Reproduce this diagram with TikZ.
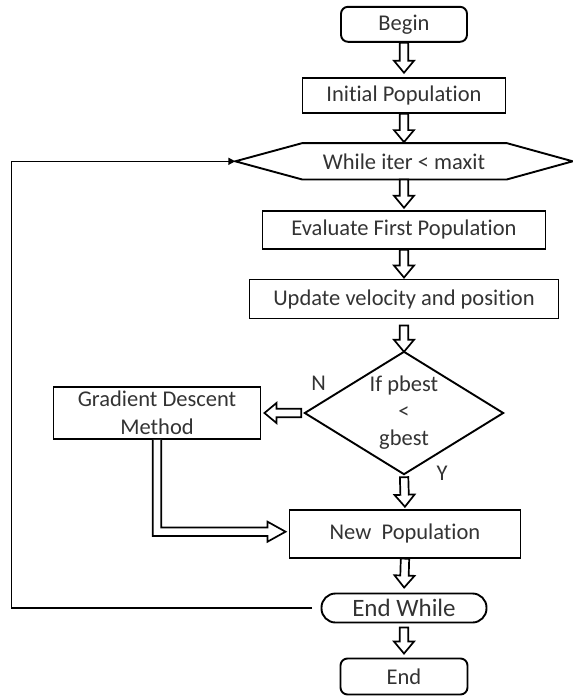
\documentclass[tikz,border=0pt]{standalone}
\usepackage{fontspec}
\setmainfont{Carlito}[Ligatures=NoCommon]
\usetikzlibrary{calc,arrows.meta}
\definecolor{ink}{HTML}{333333}
\tikzset{
  every node/.style={font=\fontsize{22.5}{28}\selectfont, text=ink},
  box/.style={draw=black, line width=1.9pt, inner sep=0pt, align=center},
  term/.style={box, rounded corners=7pt},
  bare/.style={inner sep=0pt, align=center},
  outline/.style={draw=black, line width=1.9pt, line join=miter},
  hollowline/.style={draw=black, line width=1.7pt, fill=white, line join=miter},
  % block arrow drawn as an outlined polygon; #1 = gap at start, #2 = gap at tip
  hollow/.style n args={2}{hollowline,
    to path={let \p1=($(\tikztostart)!#1!(\tikztotarget)$),
                 \p2=($(\tikztotarget)!#2!(\tikztostart)$) in
      ($(\p1)!4.2pt!90:(\p2)$)
      -- ($(\p2)!12pt!(\p1)!4.2pt!90:(\p2)$)
      -- ($(\p2)!12pt!(\p1)!10pt!90:(\p2)$)
      -- (\p2)
      -- ($(\p2)!12pt!(\p1)!10pt!-90:(\p2)$)
      -- ($(\p2)!12pt!(\p1)!4.2pt!-90:(\p2)$)
      -- ($(\p1)!4.2pt!-90:(\p2)$) -- cycle}},
  feedback/.style={draw=black, line width=1.6pt, -{Triangle[length=7pt,width=7pt]}},
}
\begin{document}
\begin{tikzpicture}[x=1pt,y=-1pt]
\useasboundingbox (0,0) rectangle (573,697);

% main column
\node[term, minimum width=126pt, minimum height=35pt] (begin) at (404,24.3) {Begin};
\node[box, minimum width=203pt, minimum height=35pt] (init) at (404,95.2) {Initial Population};
\node[bare, minimum width=337pt, minimum height=36pt] (while) at (404,161.3) {While iter < maxit};
\node[box, minimum width=283pt, minimum height=38pt] (eval) at (404,229.7) {Evaluate First Population};
\node[box, minimum width=309pt, minimum height=39pt] (upd) at (404,299) {Update velocity and position};
\node[bare, minimum width=198pt, minimum height=122pt,
      font=\fontsize{22.5}{27}\selectfont] (cond) at (404,413) {If pbest\\<\\gbest};
\node[box, minimum width=207pt, minimum height=52pt] (gd) at (157,413) {Gradient Descent\\Method};
\node[box, minimum width=231pt, minimum height=48pt] (np) at (405,533.7) {New\ \ Population};
\node[box, rounded corners=14pt, minimum width=165pt, minimum height=29pt,
      font=\fontsize{25}{30}\selectfont] (ew) at (404,608) {End While};
\node[term, minimum width=127pt, minimum height=36pt] (end) at (404,676.5) {End};

% branch labels
\node[bare] (nlab) at (318.7,383.3) {N};
\node[bare] (ylab) at (442,473) {Y};

% loop header (hexagon) and decision (diamond)
\draw[outline] (while.west) -- ($(while.north west)+(67,0)$) -- ($(while.north east)+(-66,0)$)
  -- (while.east) -- ($(while.south east)+(-66,0)$) -- ($(while.south west)+(67,0)$) -- cycle;
\draw[outline] (cond.north) -- (cond.east) -- (cond.south) -- (cond.west) -- cycle;

% block arrows
\draw[hollow={0pt}{4pt}] (begin.south) to (init.north);
\draw[hollow={0pt}{1pt}] (init.south) to (while.north);
\draw[hollow={0pt}{2pt}] (while.south) to (eval.north);
\draw[hollow={0pt}{1pt}] (eval.south) to (upd.north);
\draw[hollow={6pt}{0pt}] (upd.south) to (cond.north);
\draw[hollow={3pt}{2pt}] (cond.south) to (np.north);
\draw[hollow={0pt}{5pt}] (np.south) to (ew.north);
\draw[hollow={4pt}{4pt}] (ew.south) to (end.north);
\draw[hollow={3.5pt}{3pt}] (cond.west) to (gd.east);

% bent block arrow from the gradient step into the new population
\draw[hollowline] ($(gd.south)+(-4.3,0)$) |- ($(np.west)+(-21,2.3)$)
  -- ($(np.west)+(-21,8)$) -- ($(np.west)+(-3,-2)$) -- ($(np.west)+(-21,-12)$)
  -- ($(np.west)+(-21,-6.3)$) -| ($(gd.south)+(4.3,0)$);

% loop back to the while test
\coordinate (loopx) at (11.5,0);
\draw[feedback, shorten <=8.5pt] (ew.west) -| (loopx |- while.west) -- (while.west);
\end{tikzpicture}
\end{document}
